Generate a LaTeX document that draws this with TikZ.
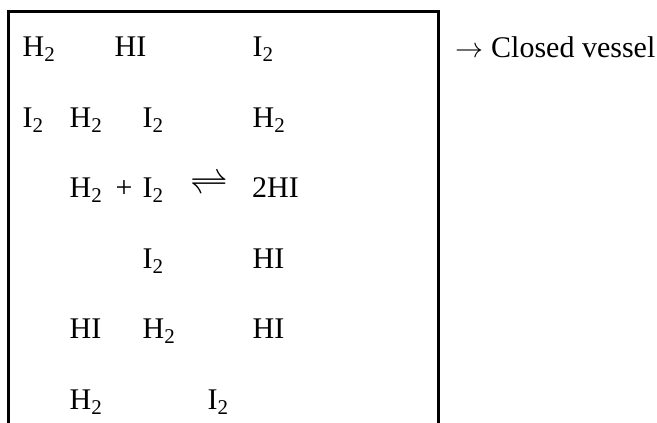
\documentclass[tikz,border=0pt]{standalone}
\usepackage{fontspec}
\setmainfont{Liberation Serif}
\newcommand{\HH}{H\textsubscript{2}}
\newcommand{\II}{I\textsubscript{2}}
\begin{document}
\begin{tikzpicture}[x=1pt,y=-1pt,
  chem/.style={anchor=base west,inner sep=0pt,font=\fontsize{30}{36}\selectfont},
  vessel/.style={line width=3.3pt,line cap=rect}]
\useasboundingbox (0,0) rectangle (657,423);
\fill[white] (0,0) rectangle (657,423);
\coordinate (bl) at (8.3,424);
\coordinate (tl) at (8.3,11.7);
\coordinate (tr) at (438.7,11.7);
\coordinate (br) at (438.7,424);
\draw[vessel] (bl) -- (tl) -- (tr) -- (br);
% row 1
\node[chem] (a1) at (22.5,56.5) {\HH};
\node[chem] (a2) at (114.5,56.5) {HI};
\node[chem] (a3) at (252.5,56.5) {\II};
% row 2
\node[chem] (b1) at (22.5,127) {\II};
\node[chem] (b2) at (69.5,127) {\HH};
\node[chem] (b3) at (142.5,127) {\II};
\node[chem] (b4) at (252.5,127) {\HH};
% row 3
\node[chem] (c1) at (69.5,197.5) {\HH};
\node[chem] (c2) at (115.5,197.5) {+};
\node[chem] (c3) at (142.5,197.5) {\II};
\node[inner sep=0pt,anchor=center] (c4) at (209,185) {\scalebox{1.85}[1.9]{\fontsize{20.74}{25}\selectfont$\rightleftharpoons$}};
\node[chem] (c5) at (252,197.5) {2HI};
% row 4
\node[chem] (d1) at (142.5,268) {\II};
\node[chem] (d2) at (252.5,268) {HI};
% row 5
\node[chem] (e1) at (69.5,338.5) {HI};
\node[chem] (e2) at (142.5,338.5) {\HH};
\node[chem] (e3) at (252.5,338.5) {HI};
% row 6
\node[chem] (f1) at (69.5,409) {\HH};
\node[chem] (f2) at (207.5,409) {\II};
% label
\node[inner sep=0pt] (arr) at (469,52.7) {\scalebox{1.35}{\fontsize{20.74}{25}\selectfont$\rightarrow$}};
\node[chem] (lab) at (491,57) {Closed vessel};
\end{tikzpicture}
\end{document}
